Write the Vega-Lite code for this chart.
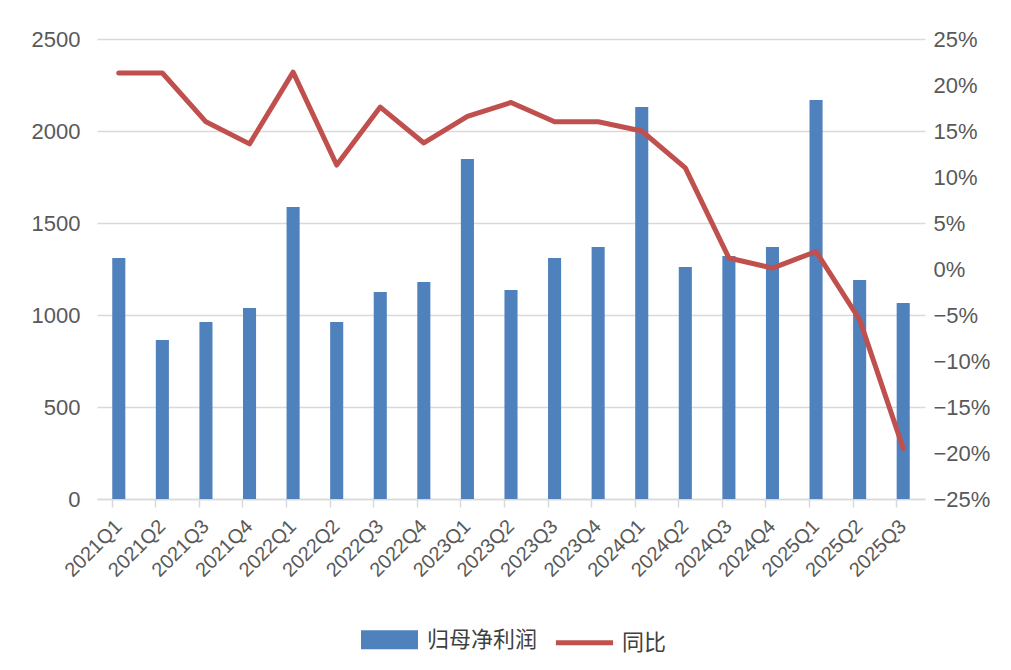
{
  "$schema": "https://vega.github.io/schema/vega-lite/v6.json",
  "width": 828,
  "height": 460,
  "autosize": "none",
  "padding": {"left": 97, "top": 39, "right": 86, "bottom": 171},
  "background": "white",
  "config": {
    "font": "Liberation Sans",
    "view": {"stroke": null},
    "axis": {"labelColor": "#595959", "labelFont": "Liberation Sans", "titleFont": "Liberation Sans"}
  },
  "data": {
    "values": [
      {"q": "2021Q1", "profit": 1310, "yoy": 0.213},
      {"q": "2021Q2", "profit": 864, "yoy": 0.213},
      {"q": "2021Q3", "profit": 962, "yoy": 0.160},
      {"q": "2021Q4", "profit": 1038, "yoy": 0.136},
      {"q": "2022Q1", "profit": 1587, "yoy": 0.214},
      {"q": "2022Q2", "profit": 962, "yoy": 0.113},
      {"q": "2022Q3", "profit": 1125, "yoy": 0.176},
      {"q": "2022Q4", "profit": 1179, "yoy": 0.137},
      {"q": "2023Q1", "profit": 1848, "yoy": 0.166},
      {"q": "2023Q2", "profit": 1136, "yoy": 0.181},
      {"q": "2023Q3", "profit": 1310, "yoy": 0.160},
      {"q": "2023Q4", "profit": 1370, "yoy": 0.160},
      {"q": "2024Q1", "profit": 2130, "yoy": 0.150},
      {"q": "2024Q2", "profit": 1261, "yoy": 0.110},
      {"q": "2024Q3", "profit": 1321, "yoy": 0.012},
      {"q": "2024Q4", "profit": 1370, "yoy": 0.001},
      {"q": "2025Q1", "profit": 2168, "yoy": 0.019},
      {"q": "2025Q2", "profit": 1190, "yoy": -0.055},
      {"q": "2025Q3", "profit": 1065, "yoy": -0.195}
    ]
  },
  "encoding": {
    "x": {
      "field": "q",
      "type": "nominal",
      "sort": null,
      "scale": {"paddingInner": 0.7, "paddingOuter": 0.35},
      "axis": {
        "title": null,
        "labelAngle": -45,
        "labelAlign": "right",
        "labelBaseline": "middle",
        "labelFontSize": 20,
        "labelPadding": 16,
        "bandPosition": 0,
        "labelOffset": 0,
        "domainColor": "#d9d9d9",
        "domainWidth": 1.5,
        "tickColor": "#d9d9d9",
        "tickWidth": 1.5,
        "tickSize": 8,
        "grid": false
      }
    }
  },
  "layer": [
    {
      "mark": {"type": "bar", "color": "#4f81bd"},
      "encoding": {
        "y": {
          "field": "profit",
          "type": "quantitative",
          "scale": {"domain": [0, 2500], "nice": false},
          "axis": {
            "title": null,
            "orient": "left",
            "values": [0, 500, 1000, 1500, 2000, 2500],
            "format": "d",
            "grid": true,
            "gridColor": "#d9d9d9",
            "gridWidth": 1.5,
            "domain": false,
            "ticks": false,
            "labelFontSize": 22,
            "labelPadding": 17
          }
        },
        "color": {
          "datum": "归母净利润",
          "type": "nominal",
          "scale": {"domain": ["归母净利润", "同比"], "range": ["#4f81bd", "#c0504d"]},
          "legend": {
            "title": null,
            "orient": "none",
            "direction": "horizontal",
            "legendX": 264,
            "legendY": 572,
            "labelFont": "Noto Sans CJK SC",
            "labelFontSize": 22,
            "labelColor": "#404040",
            "labelOffset": 9,
            "columnPadding": 7,
            "symbolSize": 2704,
            "encode": {
              "symbols": {
                "update": {
                  "shape": {"signal": "datum.value === '同比' ? 'M-1.1,0H1.1' : 'M-1,-0.27H1V0.27H-1Z'"},
                  "fill": {"signal": "datum.value === '同比' ? 'transparent' : '#4f81bd'"},
                  "stroke": {"signal": "datum.value === '同比' ? '#c0504d' : 'transparent'"},
                  "strokeWidth": {"value": 5},
                  "opacity": {"value": 1},
                  "fillOpacity": {"value": 1},
                  "strokeOpacity": {"value": 1}
                }
              }
            }
          }
        }
      }
    },
    {
      "mark": {"type": "line", "color": "#c0504d", "strokeWidth": 5, "strokeCap": "round", "strokeJoin": "round"},
      "encoding": {
        "y": {
          "field": "yoy",
          "type": "quantitative",
          "scale": {"domain": [-0.25, 0.25], "nice": false},
          "axis": {
            "title": null,
            "orient": "right",
            "values": [-0.25, -0.2, -0.15, -0.1, -0.05, 0, 0.05, 0.1, 0.15, 0.2, 0.25],
            "format": ".0%",
            "grid": false,
            "domain": false,
            "ticks": false,
            "labelFontSize": 22,
            "labelPadding": 8
          }
        },
        "color": {"datum": "同比", "type": "nominal"}
      }
    }
  ],
  "resolve": {"scale": {"y": "independent"}}
}
